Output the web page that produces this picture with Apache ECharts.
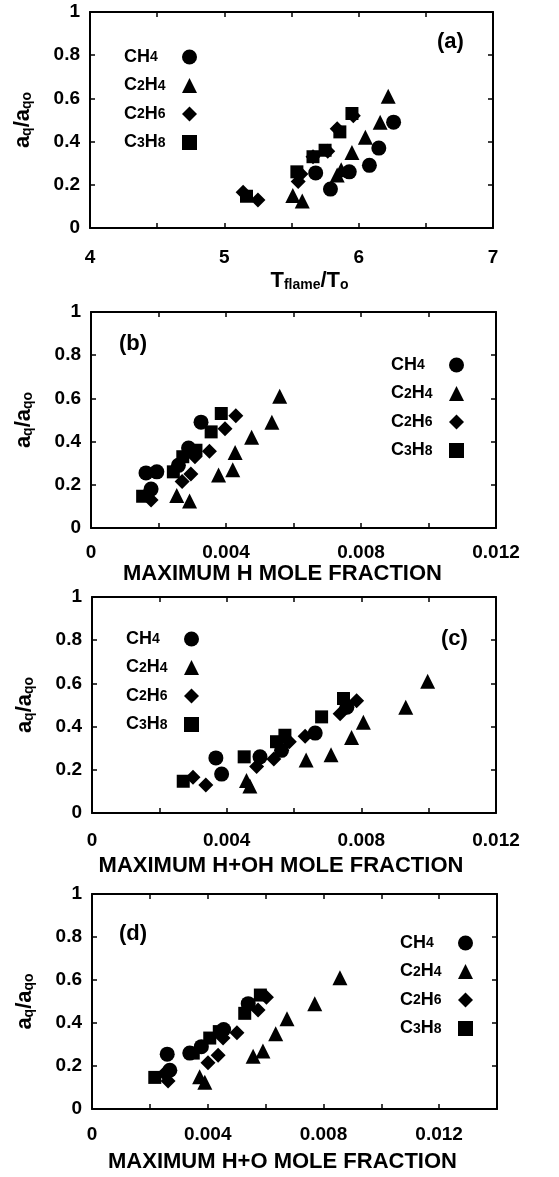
<!DOCTYPE html>
<html>
<head>
<meta charset="utf-8">
<script src="https://cdn.jsdelivr.net/npm/echarts@6/dist/echarts.min.js"></script>
<style>
  html, body { margin: 0; padding: 0; background: #fff; }
  #chart { width: 559px; height: 1177px; }
</style>
</head>
<body>
<div id="chart"></div>
<script>
// fuels and their markers
const fuels = ['CH4', 'C2H4', 'C2H6', 'C3H8'];
const symbols = ['circle', 'triangle', 'diamond', 'rect'];
const symbolSizes = [15, 15, 15, 13];

// a_q / a_qo for each fuel (same points in every panel)
const ch4Ratio = [0.49, 0.37, 0.29, 0.26, 0.255, 0.18];
const c2h4Ratio = [0.61, 0.49, 0.42, 0.35, 0.27, 0.245, 0.15, 0.125];
const c2h6Ratio = [0.52, 0.46, 0.355, 0.33, 0.25, 0.215, 0.165, 0.13];
const c3h8Ratio = [0.53, 0.445, 0.36, 0.33, 0.26, 0.147];

// (a) T_flame / T_o
const ch4Temp = [6.26, 6.15, 6.08, 5.93, 5.68, 5.79];
const c2h4Temp = [6.22, 6.16, 6.05, 5.95, 5.87, 5.84, 5.51, 5.58];
const c2h6Temp = [5.96, 5.84, 5.77, 5.66, 5.57, 5.55, 5.14, 5.25];
const c3h8Temp = [5.95, 5.86, 5.75, 5.66, 5.54, 5.165];

// (b) maximum H mole fraction
const ch4H = [0.00326, 0.00289, 0.00259, 0.00195, 0.00163, 0.00178];
const c2h4H = [0.00559, 0.00536, 0.00476, 0.00427, 0.0042, 0.00378, 0.00254, 0.00292];
const c2h6H = [0.00429, 0.00397, 0.00351, 0.00308, 0.00296, 0.0027, 0.0017, 0.00178];
const c3h8H = [0.00386, 0.00356, 0.00311, 0.00272, 0.00244, 0.00153];

// (c) maximum H+OH mole fraction
const ch4HOH = [0.00757, 0.00663, 0.00563, 0.00499, 0.00368, 0.00385];
const c2h4HOH = [0.00997, 0.00932, 0.00806, 0.00771, 0.0071, 0.00636, 0.00459, 0.00469];
const c2h6HOH = [0.00786, 0.00737, 0.00633, 0.00586, 0.0054, 0.00489, 0.003, 0.00338];
const c3h8HOH = [0.00747, 0.00682, 0.00573, 0.00548, 0.00452, 0.00271];

// (d) maximum H+O mole fraction
const ch4HO = [0.0054, 0.00455, 0.00378, 0.00338, 0.0026, 0.00269];
const c2h4HO = [0.00857, 0.0077, 0.00674, 0.00635, 0.00591, 0.00557, 0.00372, 0.0039];
const c2h6HO = [0.00603, 0.00574, 0.00501, 0.00453, 0.00436, 0.00401, 0.0025, 0.00263];
const c3h8HO = [0.00582, 0.00528, 0.0044, 0.00407, 0.0035, 0.00217];

const ratios = [ch4Ratio, c2h4Ratio, c2h6Ratio, c3h8Ratio];
const panelX = [
  [ch4Temp, c2h4Temp, c2h6Temp, c3h8Temp],
  [ch4H, c2h4H, c2h6H, c3h8H],
  [ch4HOH, c2h4HOH, c2h6HOH, c3h8HOH],
  [ch4HO, c2h4HO, c2h6HO, c3h8HO]
];
const panelTags = ['(a)', '(b)', '(c)', '(d)'];
const xNames = [
  '{m|T}{s|flame}{m|/T}{s|o}',
  'MAXIMUM H MOLE FRACTION',
  'MAXIMUM H+OH MOLE FRACTION',
  'MAXIMUM H+O MOLE FRACTION'
];
const xRanges = [[4, 7, 0.5], [0, 0.012, 0.002], [0, 0.012, 0.002], [0, 0.014, 0.002]];

// layout (px)
const grids = [
  { left: 90, top: 12, width: 403, height: 216 },
  { left: 91, top: 312, width: 405, height: 216 },
  { left: 92, top: 597, width: 404, height: 216 },
  { left: 92, top: 894, width: 405, height: 215 }
];
const tagPos = [[437, 31], [119, 333], [441, 628], [119, 923]];
const legendPos = [[124, 48], [391, 356], [126, 630], [400, 934]];
const labelMargins = [20, 15, 18, 16];
const nameGaps = [41, 33, 42, 42];
const namePads = [[0, 0, 0, 36], [0, 22, 0, 0], [0, 26, 0, 0], [0, 24, 0, 0]];

const font = 'Liberation Sans, Arial, sans-serif';
const subRich = {
  m: { fontSize: 22, fontWeight: 'bold', fontFamily: font, color: '#000', lineHeight: 22, verticalAlign: 'top' },
  s: { fontSize: 14, fontWeight: 'bold', fontFamily: font, color: '#000', lineHeight: 14, padding: [10, 0, 0, 0], verticalAlign: 'bottom' }
};

function chem(name) {
  return name.split('').map(ch => /\d/.test(ch) ? '{s|' + ch + '}' : '{m|' + ch + '}').join('');
}

function frameAxis(extra) {
  return Object.assign({
    type: 'value',
    axisLine: { show: true, onZero: false, lineStyle: { color: '#000', width: 2 } },
    axisTick: { show: true, inside: true, length: 5, lineStyle: { color: '#000', width: 1.5 } },
    splitLine: { show: false }
  }, extra);
}

const xAxes = [];
const yAxes = [];
const series = [];

grids.forEach((g, i) => {
  const [xmin, xmax, xstep] = xRanges[i];
  const isTemp = i === 0;
  xAxes.push(frameAxis({
    gridIndex: i, position: 'bottom', min: xmin, max: xmax, interval: xstep,
    name: xNames[i], nameLocation: 'middle', nameGap: nameGaps[i],
    nameTextStyle: isTemp
      ? { rich: subRich, padding: namePads[i] }
      : { fontSize: 22, fontWeight: 'bold', fontFamily: font, color: '#000', padding: namePads[i] },
    axisLabel: {
      margin: labelMargins[i], fontSize: 19, fontWeight: 'bold', fontFamily: font, color: '#000',
      formatter: v => {
        if (isTemp) return Number.isInteger(v) ? String(v) : '';
        const k = Math.round(v * 1000);
        return k % 4 === 0 && k <= 12 ? String(+v.toFixed(3)) : '';
      }
    }
  }));
  xAxes.push(frameAxis({
    gridIndex: i, position: 'top', min: xmin, max: xmax, interval: xstep,
    axisLabel: { show: false }
  }));
  yAxes.push(frameAxis({
    gridIndex: i, position: 'left', min: 0, max: 1, interval: 0.2,
    name: '{m|a}{s|q}{m|/a}{s|qo}', nameLocation: 'middle', nameRotate: 90, nameGap: 56,
    nameTextStyle: { rich: subRich },
    axisLabel: {
      margin: 10, fontSize: 19, fontWeight: 'bold', fontFamily: font, color: '#000',
      formatter: v => String(+v.toFixed(1))
    }
  }));
  yAxes.push(frameAxis({
    gridIndex: i, position: 'right', min: 0, max: 1, interval: 0.2,
    axisLabel: { show: false }
  }));

  fuels.forEach((f, k) => {
    const xs = panelX[i][k];
    series.push({
      name: f,
      type: 'scatter',
      xAxisIndex: 2 * i,
      yAxisIndex: 2 * i,
      symbol: symbols[k],
      symbolSize: symbolSizes[k],
      itemStyle: { color: '#000', opacity: 1 },
      emphasis: { disabled: true },
      data: xs.map((x, j) => [x, ratios[k][j]])
    });
  });
});

const option = {
  backgroundColor: '#fff',
  animation: false,
  grid: grids.map(g => Object.assign({ containLabel: false }, g)),
  xAxis: xAxes,
  yAxis: yAxes,
  title: panelTags.map((t, i) => ({
    text: t, left: tagPos[i][0], top: tagPos[i][1], padding: 0,
    textStyle: { fontSize: 22, fontWeight: 'bold', fontFamily: font, color: '#000' }
  })),
  legend: legendPos.map(p => ({
    data: fuels,
    left: p[0], top: p[1],
    padding: 0,
    orient: 'vertical',
    align: 'right',
    itemWidth: 15, itemHeight: 15, itemGap: 10.5,
    selectedMode: false,
    formatter: name => chem(name),
    textStyle: {
      width: 53,
      rich: {
        m: { fontSize: 18, fontWeight: 'bold', fontFamily: font, color: '#000', align: 'left', lineHeight: 15 },
        s: { fontSize: 14, fontWeight: 'bold', fontFamily: font, color: '#000', align: 'left', lineHeight: 15, verticalAlign: 'bottom', padding: [2, 0, 0, 0] }
      }
    }
  })),
  series: series
};

const chart = echarts.init(document.getElementById('chart'));
chart.setOption(option);
</script>
</body>
</html>
